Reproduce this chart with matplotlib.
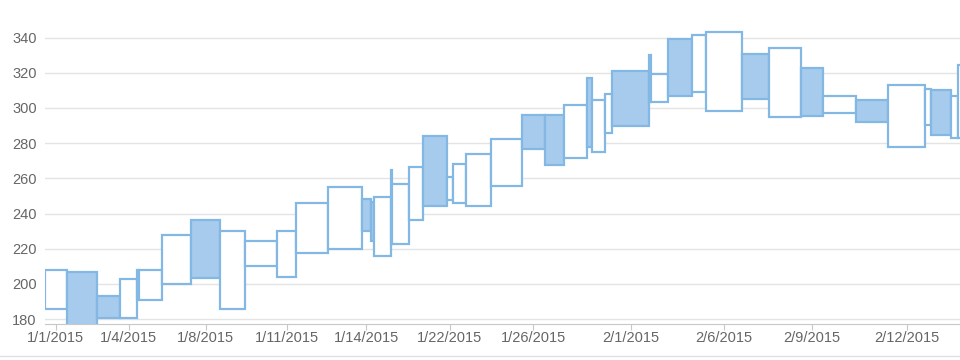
import matplotlib
matplotlib.use("Agg")
import matplotlib.pyplot as plt
from matplotlib.lines import Line2D
import numpy as np

# equivolume data: one box per trading day, width = volume, box spans low..high
dates = ["1/1/2015", "1/2/2015", "1/3/2015", "1/4/2015", "1/5/2015", "1/6/2015",
         "1/7/2015", "1/8/2015", "1/9/2015", "1/10/2015", "1/11/2015", "1/12/2015",
         "1/13/2015", "1/14/2015", "1/15/2015", "1/16/2015", "1/17/2015", "1/19/2015",
         "1/20/2015", "1/21/2015", "1/22/2015", "1/23/2015", "1/24/2015", "1/25/2015",
         "1/26/2015", "1/27/2015", "1/28/2015", "1/29/2015", "1/30/2015", "1/31/2015",
         "2/1/2015", "2/2/2015", "2/3/2015", "2/4/2015", "2/5/2015", "2/6/2015",
         "2/7/2015", "2/8/2015", "2/9/2015", "2/10/2015", "2/11/2015", "2/12/2015",
         "2/13/2015", "2/14/2015", "2/15/2015", "2/16/2015"]
volume = [21.7, 30, 23.3, 17, 2.3, 22.7, 29, 29, 25, 32, 19, 32.3,
          33.4, 9.3, 3, 16.7, 1, 17.3, 13.7, 24.6, 5.4, 13.7, 24.6, 30.7,
          23.3, 18.7, 23, 5.6, 12.7, 7.3, 36.7, 2, 17.3, 24, 13.4, 36.6,
          27, 31.7, 21.7, 33, 32.6, 36.7, 6, 20, 7.3, 12]
high = [208, 206.5, 193.3, 202.5, 207.8, 208, 227.9, 236.2, 230.2, 224.5, 230.3, 246.1,
        254.8, 248.2, 246.6, 249.5, 264.6, 256.6, 266.4, 284.1, 260.5, 268.4, 274.1, 282.2,
        296.2, 295.8, 301.7, 317.3, 304.4, 308.2, 320.9, 330.3, 319.5, 339, 341.5, 343,
        330.9, 333.9, 322.6, 306.7, 304.4, 313, 311, 310.1, 306.8, 324.4]
low = [186, 172, 180.4, 180.4, 191.5, 190.8, 199.9, 203.5, 185.7, 210.1, 203.7, 217.5,
       220.1, 230, 224.5, 215.6, 222.6, 222.6, 236.6, 244.2, 247.6, 245.7, 244.2, 255.7,
       276.9, 267.5, 271.6, 277.8, 275, 285.8, 289.5, 303.6, 303.5, 306.7, 309.1, 298,
       305, 295.1, 295.5, 297.2, 292.1, 277.7, 290.2, 284.5, 283.2, 283]
# True where close < open (filled box)
falling = [0, 1, 1, 0, 1, 0, 0, 1, 0, 0, 0, 0,
           0, 1, 1, 0, 0, 0, 0, 1, 0, 0, 0, 0,
           1, 1, 0, 1, 0, 0, 1, 1, 0, 1, 0, 0,
           1, 0, 1, 0, 1, 0, 0, 1, 0, 0]
tick_dates = ["1/1/2015", "1/4/2015", "1/8/2015", "1/11/2015", "1/14/2015", "1/22/2015",
              "1/26/2015", "2/1/2015", "2/6/2015", "2/9/2015", "2/12/2015"]

edge = "#82b8e3"
fill = "#a6cbec"
text_color = "#666666"

vol = np.array(volume)
left = np.concatenate([[0], np.cumsum(vol)[:-1]])
hi = np.array(high)
lo = np.array(low)
colors = [fill if f else "white" for f in falling]

fig = plt.figure(figsize=(9.6, 3.6), dpi=100)
ax = fig.add_axes([45 / 960, 36 / 360, 915 / 960, 304 / 360])

ax.bar(left, hi - lo, width=vol, bottom=lo, align="edge",
       color=colors, edgecolor=edge, linewidth=1.6, zorder=3)

ax.set_xlim(0, 915)
ax.set_ylim(177.2, 350)
ax.set_yticks(range(180, 341, 20))
ax.yaxis.grid(True, color="#e4e4e4", linewidth=1)
ax.set_axisbelow(True)

centers = {d: l + v / 2 for d, l, v in zip(dates, left, vol)}
ax.set_xticks([centers[d] for d in tick_dates])
ax.set_xticklabels(tick_dates)

for s in ["top", "right", "left"]:
    ax.spines[s].set_visible(False)
ax.spines["bottom"].set_color("#c8c8c8")
ax.tick_params(axis="x", length=4, color="#c8c8c8", labelsize=10.5,
               labelcolor=text_color, pad=1)
ax.tick_params(axis="y", length=0, labelsize=10.5, labelcolor=text_color, pad=6)
for lab in ax.get_yticklabels() + ax.get_xticklabels():
    lab.set_fontfamily("Liberation Sans")

# thin border line under the chart
fig.add_artist(Line2D([0, 1], [1 - 356 / 360] * 2, color="#e0e0e0", linewidth=1))

fig.savefig("out.png", dpi=100)
